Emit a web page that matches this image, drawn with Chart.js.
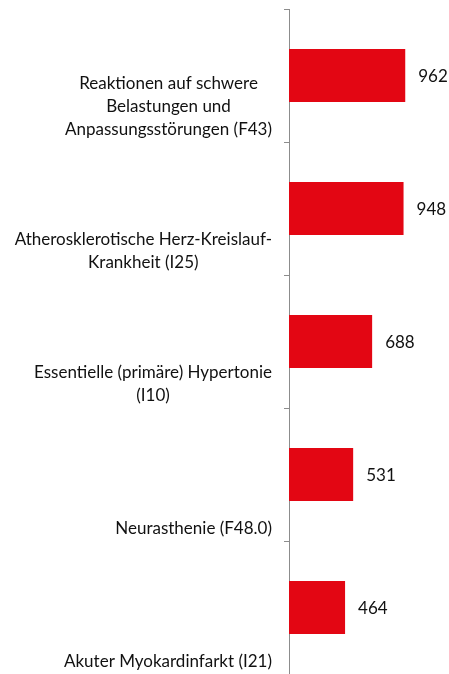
<!DOCTYPE html>
<html>
<head>
<meta charset="utf-8">
<script src="https://cdn.jsdelivr.net/npm/chart.js@4"></script>
<style>
  html, body { margin: 0; padding: 0; background: #fff; }
  #wrap { width: 449px; height: 674px; position: relative; }
</style>
</head>
<body>
<div id="wrap"><canvas id="barChart"></canvas></div>
<script>
// Diagnosen (Zeilen wie im Original umbrochen)
const diagnosen = [
  ['Reaktionen auf schwere', 'Belastungen und', 'Anpassungsstörungen (F43)'],
  ['Atherosklerotische Herz-Kreislauf-', 'Krankheit (I25)'],
  ['Essentielle (primäre) Hypertonie', '(I10)'],
  ['Neurasthenie (F48.0)'],
  ['Akuter Myokardinfarkt (I21)']
];
const faelle = [962, 948, 688, 531, 464];

const FONT = 'Lato';
const FSIZE = 17;
const LINE_H = 23;

// Beschriftungen links: Block rechtsbündig, Zeilen zentriert, unten verankert
const labelPlugin = {
  id: 'kategorien',
  afterDraw(chart) {
    const ctx = chart.ctx;
    const y = chart.scales.y;
    ctx.save();
    ctx.font = FSIZE + 'px ' + FONT;
    ctx.fillStyle = '#111';
    ctx.textAlign = 'center';
    ctx.textBaseline = 'middle';
    diagnosen.forEach((zeilen, i) => {
      const mitte = y.getPixelForValue(i);
      const breite = Math.max(...zeilen.map(z => ctx.measureText(z).width));
      const x = y.right - 17 - breite / 2;
      zeilen.forEach((z, k) => {
        ctx.fillText(z, x, mitte + 54 - (zeilen.length - 1 - k) * LINE_H);
      });
    });
    ctx.restore();
  }
};

// Werte rechts neben den Balken
const wertPlugin = {
  id: 'werte',
  afterDatasetsDraw(chart) {
    const ctx = chart.ctx;
    const meta = chart.getDatasetMeta(0);
    ctx.save();
    ctx.font = FSIZE + 'px ' + FONT;
    ctx.fillStyle = '#111';
    ctx.textAlign = 'left';
    ctx.textBaseline = 'middle';
    meta.data.forEach((bar, i) => {
      ctx.fillText(faelle[i], bar.x + 13, bar.y + 1);
    });
    ctx.restore();
  }
};

new Chart(document.getElementById('barChart'), {
  type: 'bar',
  data: {
    labels: diagnosen,
    datasets: [{
      data: faelle,
      backgroundColor: '#e30613',
      barPercentage: 0.4,
      categoryPercentage: 1
    }]
  },
  options: {
    indexAxis: 'y',
    responsive: true,
    maintainAspectRatio: false,
    animation: false,
    layout: { padding: { top: 9, right: 15, bottom: 0, left: 0 } },
    plugins: { legend: { display: false }, tooltip: { enabled: false } },
    scales: {
      x: { display: false, min: 0, max: 1200 },
      y: {
        afterFit(scale) { scale.width = 289; },
        border: { display: true, color: '#8c8c8c', width: 1 },
        grid: { offset: true, drawOnChartArea: false, drawTicks: true, tickLength: 5, color: '#8c8c8c' },
        ticks: { display: false }
      }
    }
  },
  plugins: [labelPlugin, wertPlugin]
});
</script>
</body>
</html>
